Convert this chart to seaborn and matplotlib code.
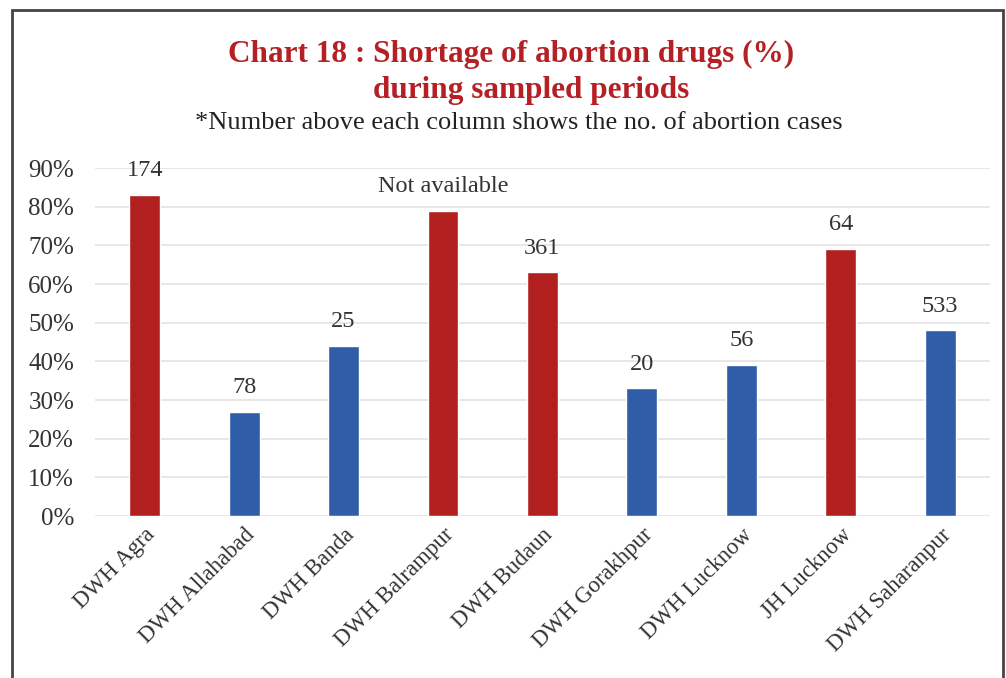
import matplotlib
matplotlib.use("Agg")
import matplotlib.pyplot as plt
import seaborn as sns
import pandas as pd
from matplotlib.patches import Rectangle
from matplotlib.ticker import PercentFormatter

categories = ["DWH Agra", "DWH Allahabad", "DWH Banda", "DWH Balrampur", "DWH Budaun",
              "DWH Gorakhpur", "DWH Lucknow", "JH Lucknow", "DWH Saharanpur"]
shortage = [0.83, 0.27, 0.44, 0.79, 0.63, 0.33, 0.39, 0.69, 0.48]
cases = ["174", "78", "25", "Not available", "361", "20", "56", "64", "533"]
group = ["high", "low", "low", "high", "high", "low", "low", "high", "low"]

RED = "#B21F1F"
BLUE = "#2F5DA8"
colors = {"high": RED, "low": BLUE}

sns.set_theme(style="white")
plt.rcParams["font.family"] = ["Liberation Serif", "DejaVu Serif"]

df = pd.DataFrame({"cat": categories, "val": shortage, "grp": group})

fig = plt.figure(figsize=(10.06, 6.78), dpi=100)
fig.patch.set_facecolor("white")
ax = fig.add_axes([0.0944, 0.2389, 0.8896, 0.5133])

sns.barplot(data=df, x="cat", y="val", hue="grp", palette=colors, dodge=False,
            width=0.31, legend=False, ax=ax, saturation=1)

ax.set_ylim(0, 0.9)
ax.set_xlim(-0.5, len(categories) - 0.5)
ax.set_yticks([i / 10 for i in range(10)])
ax.yaxis.set_major_formatter(PercentFormatter(1.0, decimals=0))
ax.grid(axis="y", color="#E3E3E3", linewidth=1.2)
ax.set_axisbelow(True)
for s in ax.spines.values():
    s.set_visible(False)
ax.set_xlabel("")
ax.set_ylabel("")
ax.tick_params(axis="y", labelsize=18, colors="#333333", pad=15, length=0)
ax.tick_params(axis="x", labelsize=16.5, colors="#333333", pad=6, length=0)
plt.setp(ax.get_xticklabels(), rotation=45, ha="right", rotation_mode="anchor")

for i, (v, c) in enumerate(zip(shortage, cases)):
    ax.annotate(c, (i, v), xytext=(0, 10), textcoords="offset points",
                ha="center", va="bottom", fontsize=17.5, color="#333333")

fig.text(0.508, 0.92, "Chart 18 : Shortage of abortion drugs (%)", ha="center",
         va="center", fontsize=22.5, fontweight="bold", color="#B52025")
fig.text(0.528, 0.867, "during sampled periods", ha="center", va="center",
         fontsize=22.5, fontweight="bold", color="#B52025")
fig.text(0.516, 0.818, "*Number above each column shows the no. of abortion cases",
         ha="center", va="center", fontsize=19, color="#222222")

fig.patches.append(Rectangle((12 / 1006, -0.05), (1003 - 12) / 1006, 1.05 - 10 / 678,
                             transform=fig.transFigure, fill=False,
                             edgecolor="#444444", linewidth=2))

fig.savefig("out.png", dpi=100)
